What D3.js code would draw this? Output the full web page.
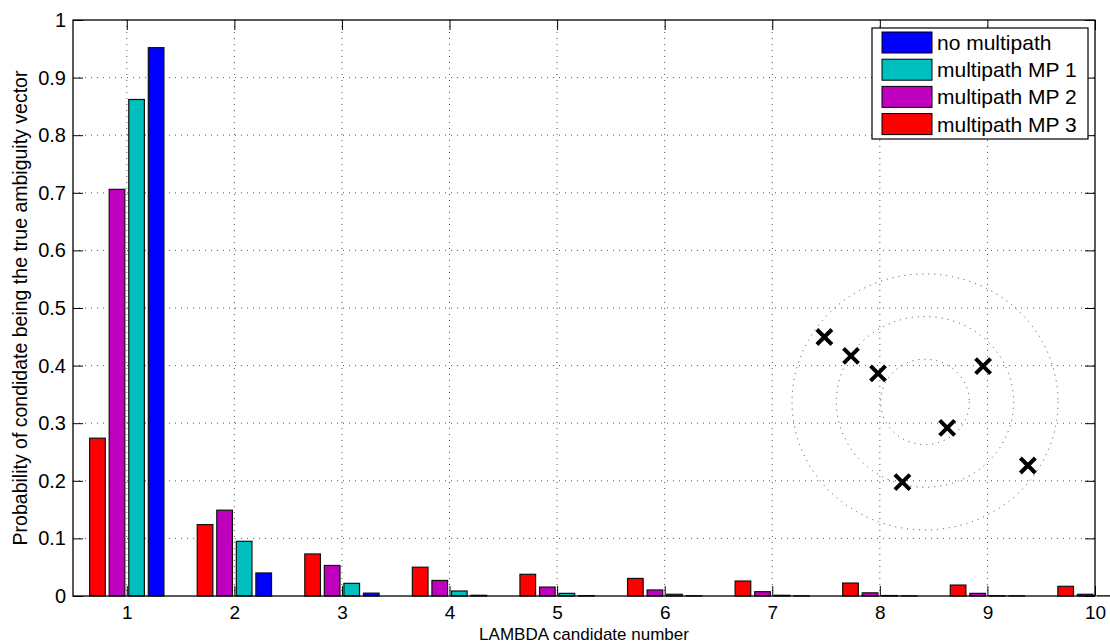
<!DOCTYPE html>
<html>
<head>
<meta charset="utf-8">
<script src="https://cdn.jsdelivr.net/npm/d3@7"></script>
<style>
  body { margin: 0; background: #fff; }
  text { font-family: "Liberation Sans", Arial, sans-serif; fill: #000; }
</style>
</head>
<body>
<svg id="chart" width="1110" height="644"></svg>
<script>
// candidates on the x axis
var candidates = [1, 2, 3, 4, 5, 6, 7, 8, 9, 10];
var yTicks = [0, 0.1, 0.2, 0.3, 0.4, 0.5, 0.6, 0.7, 0.8, 0.9, 1];

// probabilities per series
var noMultipath = [0.952, 0.040, 0.005, 0.0012, 0.0006, 0.0004, 0.0003, 0.0002, 0.0002, 0.0001];
var multipathMP1 = [0.862, 0.095, 0.022, 0.0087, 0.0046, 0.003, 0.0012, 0.0008, 0.0005, 0.0004];
var multipathMP2 = [0.706, 0.149, 0.053, 0.027, 0.0155, 0.0105, 0.0075, 0.0055, 0.0046, 0.003];
var multipathMP3 = [0.274, 0.124, 0.073, 0.050, 0.0377, 0.0305, 0.026, 0.0225, 0.019, 0.0168];

// legend order (top to bottom)
var seriesNames = ["no multipath", "multipath MP 1", "multipath MP 2", "multipath MP 3"];
var seriesValues = [noMultipath, multipathMP1, multipathMP2, multipathMP3];
var seriesColors = ["#0000ff", "#00bfbf", "#bf00bf", "#ff0000"];

// inset sketch: rings and candidate crosses (inset units)
var ringRadii = [1, 2, 3];
var crossX = [-2.27, -1.67, -1.06, 1.31, 0.50, -0.51, 2.32];
var crossY = [1.52, 1.08, 0.67, 0.84, -0.61, -1.88, -1.49];

render();

function render() {
  var svg = d3.select("#chart");
  var margin = {top: 20, right: 15, bottom: 48, left: 73};
  var width = +svg.attr("width") - margin.left - margin.right;
  var height = +svg.attr("height") - margin.top - margin.bottom;
  var g = svg.append("g").attr("transform", "translate(" + margin.left + "," + margin.top + ")");

  var x = d3.scaleLinear().domain([0.5, 10]).range([0, width]);
  var y = d3.scaleLinear().domain([0, 1]).range([height, 0]);

  // bars drawn left to right: MP3, MP2, MP1, none
  var barOrder = [3, 2, 1, 0];
  var groupWidth = 0.727 * (x(2) - x(1));
  var x1 = d3.scaleBand()
      .domain(barOrder)
      .range([-groupWidth / 2, groupWidth / 2])
      .paddingInner(0.2)
      .paddingOuter(0.1);

  // grid
  g.append("g").selectAll("line")
    .data(candidates.slice(0, -1))
    .enter().append("line")
      .attr("x1", function(d) { return x(d); })
      .attr("x2", function(d) { return x(d); })
      .attr("y1", 0).attr("y2", height)
      .attr("stroke", "#555").attr("stroke-dasharray", "1,5");

  g.append("g").selectAll("line")
    .data(yTicks.slice(1, -1))
    .enter().append("line")
      .attr("y1", function(d) { return y(d); })
      .attr("y2", function(d) { return y(d); })
      .attr("x1", 0).attr("x2", width)
      .attr("stroke", "#555").attr("stroke-dasharray", "1,5");

  // bars
  var rows = [];
  barOrder.forEach(function(s) {
    candidates.forEach(function(c, i) {
      rows.push({series: s, cand: c, value: seriesValues[s][i]});
    });
  });

  g.append("g").selectAll("rect")
    .data(rows)
    .enter().append("rect")
      .attr("x", function(d) { return x(d.cand) + x1(d.series); })
      .attr("y", function(d) { return y(d.value); })
      .attr("width", x1.bandwidth())
      .attr("height", function(d) { return y(0) - y(d.value); })
      .attr("fill", function(d) { return seriesColors[d.series]; })
      .attr("stroke", "#111")
      .attr("stroke-width", 1.2);

  // inset sketch
  var inset = g.append("g")
      .attr("transform", "translate(" + x(8.42) + "," + y(0.337) + ")");
  var ix = d3.scaleLinear().domain([-3, 3]).range([-133, 133]);
  var iy = d3.scaleLinear().domain([-3, 3]).range([128, -128]);

  inset.selectAll("ellipse")
    .data(ringRadii)
    .enter().append("ellipse")
      .attr("cx", ix(0)).attr("cy", iy(0))
      .attr("rx", function(d) { return ix(d) - ix(0); })
      .attr("ry", function(d) { return iy(0) - iy(d); })
      .attr("fill", "none")
      .attr("stroke", "#444")
      .attr("stroke-dasharray", "1,5");

  inset.selectAll("path")
    .data(crossX.map(function(v, i) { return [v, crossY[i]]; }))
    .enter().append("path")
      .attr("transform", function(d) { return "translate(" + ix(d[0]) + "," + iy(d[1]) + ")"; })
      .attr("d", "M-7.5,-7.5L7.5,7.5M-7.5,7.5L7.5,-7.5")
      .attr("stroke", "#000")
      .attr("stroke-width", 4)
      .attr("fill", "none");

  // axes box
  g.append("rect")
      .attr("width", width).attr("height", height)
      .attr("fill", "none").attr("stroke", "#000").attr("stroke-width", 1.3);

  var xAxis = g.append("g")
      .attr("transform", "translate(0," + height + ")")
      .call(d3.axisBottom(x).tickValues(candidates).tickSizeInner(-10).tickSizeOuter(0).tickPadding(10));
  var yAxis = g.append("g")
      .call(d3.axisLeft(y).tickValues(yTicks).tickFormat(d3.format("~g")).tickSizeInner(-10).tickSizeOuter(0).tickPadding(7));
  g.append("g")
      .call(d3.axisTop(x).tickValues(candidates).tickSizeInner(-10).tickSizeOuter(0).tickFormat(""));
  g.append("g")
      .attr("transform", "translate(" + width + ",0)")
      .call(d3.axisRight(y).tickValues(yTicks).tickSizeInner(-10).tickSizeOuter(0).tickFormat(""));

  g.selectAll(".domain").remove();
  g.selectAll(".tick line").attr("stroke", "#000");
  xAxis.selectAll("text").style("font-size", "19px").attr("dy", "0.71em");
  yAxis.selectAll("text").style("font-size", "20px");

  // axis labels
  svg.append("text")
      .attr("x", margin.left + width / 2)
      .attr("y", 640)
      .attr("text-anchor", "middle")
      .style("font-size", "17px")
      .text("LAMBDA candidate number");

  svg.append("text")
      .attr("transform", "translate(27," + (margin.top + height / 2) + ") rotate(-90)")
      .attr("text-anchor", "middle")
      .style("font-size", "19.5px")
      .text("Probability of condidate being the true ambiguity vector");

  // legend
  var legend = svg.append("g").attr("transform", "translate(872,28)");
  legend.append("rect")
      .attr("width", 216).attr("height", 111)
      .attr("fill", "#fff").attr("stroke", "#000").attr("stroke-width", 1.2);

  var item = legend.selectAll(".legend")
    .data(seriesNames)
    .enter().append("g")
      .attr("class", "legend")
      .attr("transform", function(d, i) { return "translate(0," + (4 + i * 27.2) + ")"; });

  item.append("rect")
      .attr("x", 10).attr("width", 50).attr("height", 21)
      .attr("fill", function(d, i) { return seriesColors[i]; })
      .attr("stroke", "#000");

  item.append("text")
      .attr("x", 65)
      .attr("y", 10.5)
      .attr("dy", "0.36em")
      .style("font-size", "21px")
      .text(function(d) { return d; });
}
</script>
</body>
</html>
